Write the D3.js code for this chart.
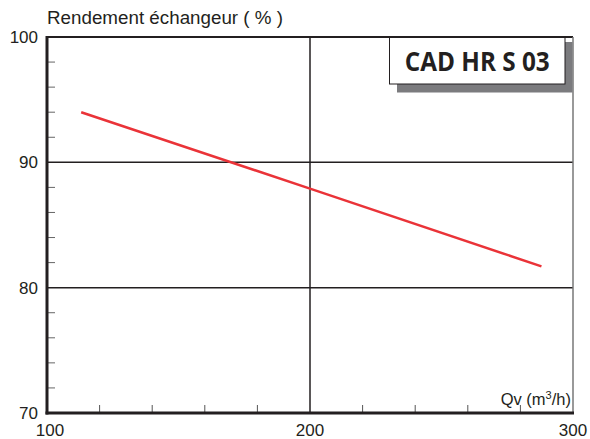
<!DOCTYPE html>
<html lang="fr">
<head>
  <meta charset="UTF-8" />
  <title>CAD HR S 03</title>
  <script src="https://d3js.org/d3.v7.min.js"></script>
  <style>
    body { margin: 0; background: #fff; }
    text { font-family: "Liberation Sans", Arial, sans-serif; fill: #231f20; }
  </style>
</head>
<body>
  <div id="chart"></div>
  <script>
    // data
    const qv = [113, 200, 288];
    const rendement = [94.0, 87.9, 81.7];
    const xTicks = [100, 200, 300];
    const yTicks = [70, 80, 90, 100];
    const modelName = "CAD HR S 03";

    const width = 590, height = 439;
    const m = { left: 47, right: 17, top: 37, bottom: 26 };

    const svg = d3.select("#chart").append("svg").attr("width", width).attr("height", height);

    const x = d3.scaleLinear().domain([100, 300]).range([m.left, width - m.right]);
    const y = d3.scaleLinear().domain([70, 100]).range([height - m.bottom, m.top]);

    const ink = "#231f20";

    // minor ticks
    svg.append("g").selectAll("line")
      .data(d3.range(100, 300, 20).filter(v => v % 100 !== 0))
      .enter().append("line")
      .attr("x1", d => x(d)).attr("x2", d => x(d))
      .attr("y1", y(70)).attr("y2", y(70) - 8)
      .attr("stroke", "#555").attr("stroke-width", 1);
    svg.append("g").selectAll("line")
      .data(d3.range(70, 100, 2).filter(v => v % 10 !== 0))
      .enter().append("line")
      .attr("x1", x(100)).attr("x2", x(100) + 8)
      .attr("y1", d => y(d)).attr("y2", d => y(d))
      .attr("stroke", "#666").attr("stroke-width", 1);

    // grid
    svg.append("g").selectAll("line")
      .data([80, 90])
      .enter().append("line")
      .attr("x1", x(100)).attr("x2", x(300))
      .attr("y1", d => y(d)).attr("y2", d => y(d))
      .attr("stroke", ink).attr("stroke-width", 1.5);
    svg.append("line")
      .attr("x1", x(200)).attr("x2", x(200))
      .attr("y1", y(70)).attr("y2", y(100))
      .attr("stroke", ink).attr("stroke-width", 1.5);

    // frame
    svg.append("line").attr("x1", x(100)).attr("x2", x(300)).attr("y1", y(100)).attr("y2", y(100))
      .attr("stroke", ink).attr("stroke-width", 2);
    svg.append("line").attr("x1", x(300)).attr("x2", x(300)).attr("y1", y(100)).attr("y2", y(70))
      .attr("stroke", "#777").attr("stroke-width", 1.5);
    svg.append("line").attr("x1", x(100)).attr("x2", x(100)).attr("y1", y(100) - 1).attr("y2", y(70) + 1.5)
      .attr("stroke", ink).attr("stroke-width", 3);
    svg.append("line").attr("x1", x(100) - 1.5).attr("x2", x(300) + 1).attr("y1", y(70)).attr("y2", y(70))
      .attr("stroke", ink).attr("stroke-width", 3);

    // curve
    svg.append("path")
      .datum(qv.map((v, i) => [v, rendement[i]]))
      .attr("d", d3.line().x(d => x(d[0])).y(d => y(d[1])))
      .attr("fill", "none").attr("stroke", "#ea3338").attr("stroke-width", 2.5);

    // tick labels
    svg.append("g").selectAll("text")
      .data(yTicks).enter().append("text")
      .attr("x", x(100) - 9).attr("y", d => y(d) + 6)
      .attr("text-anchor", "end").style("font-size", "17px")
      .text(d => d);
    svg.append("g").selectAll("text")
      .data(xTicks).enter().append("text")
      .attr("x", d => x(d) + (d === 100 ? 3 : 0)).attr("y", 436)
      .attr("text-anchor", "middle").style("font-size", "17px")
      .text(d => d);

    // axis titles
    svg.append("text").attr("x", 47).attr("y", 24).style("font-size", "17.5px")
      .attr("textLength", 236).attr("lengthAdjust", "spacingAndGlyphs")
      .text("Rendement échangeur ( % )");
    const qvLabel = svg.append("text").attr("x", x(300) - 2).attr("y", 405)
      .attr("text-anchor", "end").style("font-size", "16.5px");
    qvLabel.append("tspan").text("Qv  (m");
    qvLabel.append("tspan").attr("dy", -6).style("font-size", "11px").text("3");
    qvLabel.append("tspan").attr("dy", 6).text("/h)");

    // model box
    const bx = 389.5, by = 37.5, bw = 175.5, bh = 46.5;
    svg.append("rect").attr("x", bx + 7.5).attr("y", by + 4.5).attr("width", x(300) - bx - 8).attr("height", bh + 4)
      .attr("fill", "#7b7b7e");
    svg.append("rect").attr("x", bx).attr("y", by).attr("width", bw).attr("height", bh)
      .attr("fill", "#fff").attr("stroke", ink).attr("stroke-width", 1);
    svg.append("text").attr("x", bx + bw / 2).attr("y", by + 33)
      .attr("text-anchor", "middle")
      .attr("textLength", 145).attr("lengthAdjust", "spacingAndGlyphs")
      .style("font-family", "'Open Sans', sans-serif").style("font-weight", "bold").style("font-size", "26px")
      .text(modelName);
  </script>
</body>
</html>
